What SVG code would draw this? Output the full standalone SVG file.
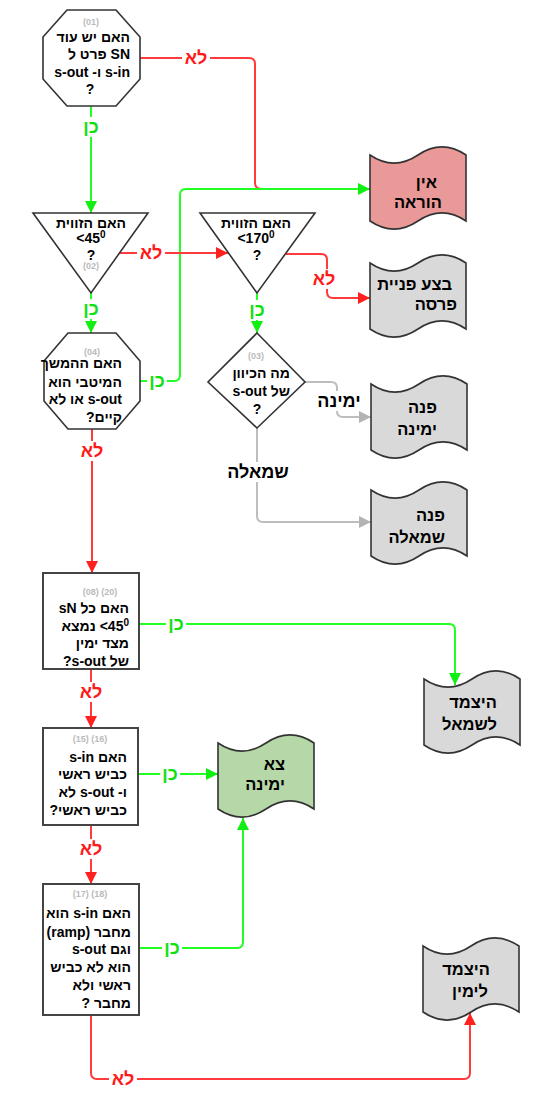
<svg xmlns="http://www.w3.org/2000/svg" width="550" height="1098" viewBox="0 0 550 1098">
<style>
.sh{fill:#fff;stroke:#333;stroke-width:1.6}
.bx{fill:#fff;stroke:#444;stroke-width:2}
.tp{stroke:#333;stroke-width:1.6}
.gray{fill:#d9d9d9}.pink{fill:#ea9999}.grn{fill:#b6d7a8}
text{font-family:"Liberation Sans",Arial,"DejaVu Sans",sans-serif;font-weight:bold}
.t{font-size:14px;fill:#000}
.n{font-size:9px;fill:#bbb}
.tt{font-size:16.5px;fill:#000}
.lr{font-size:18px;fill:#ff1a1a}
.lg{font-size:18px;fill:#11e011}
.lk{font-size:18px;fill:#000}
.cr{fill:none;stroke:#ff3b3b;stroke-width:2}
.cg{fill:none;stroke:#22ff22;stroke-width:2}
.cy{fill:none;stroke:#bdbdbd;stroke-width:2}
.bg{fill:#fff}
</style>
<defs>
<path id="tape" d="M0,9 Q24,25.2 48,9 Q72,-7.2 96,9 L96,75 Q72,58.8 48,75 Q24,91.2 0,75 Z"/>
<marker id="ar" markerUnits="userSpaceOnUse" markerWidth="13" markerHeight="12" refX="12" refY="6" orient="auto"><path d="M0,0 L12,6 L0,12 Z" fill="#ff2020"/></marker>
<marker id="ag" markerUnits="userSpaceOnUse" markerWidth="13" markerHeight="12" refX="12" refY="6" orient="auto"><path d="M0,0 L12,6 L0,12 Z" fill="#11ee11"/></marker>
<marker id="ay" markerUnits="userSpaceOnUse" markerWidth="13" markerHeight="12" refX="12" refY="6" orient="auto"><path d="M0,0 L12,6 L0,12 Z" fill="#b3b3b3"/></marker>
</defs>
<rect width="550" height="1098" fill="#fff"/>

<g id="connectors">
<path class="cr" d="M140,58 H249 Q255,58 255,64 V183 Q255,189 262,189"/>
<path class="cg" d="M140,381 H174 Q180,381 180,375 V195 Q180,189 186,189 H370" marker-end="url(#ag)"/>
<path class="cg" d="M91,106 V213" marker-end="url(#ag)"/>
<path class="cr" d="M119,253 H228" marker-end="url(#ar)"/>
<path class="cg" d="M91,293 V333" marker-end="url(#ag)"/>
<path class="cr" d="M286,254 H321 Q327,254 327,260 V292 Q327,298 333,298 H370" marker-end="url(#ar)"/>
<path class="cg" d="M257,293 V333" marker-end="url(#ag)"/>
<path class="cy" d="M305,382 H331 Q337,382 337,388 V411 Q337,417 343,417 H371" marker-end="url(#ay)"/>
<path class="cy" d="M257,428 V516 Q257,522 263,522 H371" marker-end="url(#ay)"/>
<path class="cr" d="M92,429 V573" marker-end="url(#ar)"/>
<path class="cg" d="M139,624 H449 Q455,624 455,630 V685" marker-end="url(#ag)"/>
<path class="cr" d="M91,669 V728" marker-end="url(#ar)"/>
<path class="cg" d="M138,774 H218" marker-end="url(#ag)"/>
<path class="cr" d="M91,825 V884" marker-end="url(#ar)"/>
<path class="cg" d="M139,948 H237 Q243,948 243,942 V818" marker-end="url(#ag)"/>
<path class="cr" d="M91,1015 V1073 Q91,1079 97,1079 H464 Q470,1079 470,1073 V1013" marker-end="url(#ar)"/>
<g id="labels" dominant-baseline="central" text-anchor="middle">
<rect class="bg" x="182" y="48" width="28" height="20"/><text class="lr" x="196" y="58">לא</text>
<rect class="bg" x="147" y="371" width="20" height="20"/><text class="lg" x="157" y="381">כן</text>
<rect class="bg" x="81" y="117" width="20" height="20"/><text class="lg" x="91" y="127">כן</text>
<rect class="bg" x="137" y="243" width="28" height="20"/><text class="lr" x="151" y="253">לא</text>
<rect class="bg" x="81" y="299" width="20" height="20"/><text class="lg" x="91" y="309">כן</text>
<rect class="bg" x="310" y="269" width="28" height="20"/><text class="lr" x="324" y="279">לא</text>
<rect class="bg" x="247" y="300" width="20" height="20"/><text class="lg" x="257" y="310">כן</text>
<rect class="bg" x="318" y="391" width="42" height="20"/><text class="lk" x="339" y="401">ימינה</text>
<rect class="bg" x="228" y="462" width="60" height="20"/><text class="lk" x="258" y="472">שמאלה</text>
<rect class="bg" x="78" y="441" width="28" height="20"/><text class="lr" x="92" y="451">לא</text>
<rect class="bg" x="166" y="614" width="20" height="20"/><text class="lg" x="176" y="624">כן</text>
<rect class="bg" x="77" y="682" width="28" height="20"/><text class="lr" x="91" y="692">לא</text>
<rect class="bg" x="160" y="764" width="20" height="20"/><text class="lg" x="170" y="774">כן</text>
<rect class="bg" x="77" y="839" width="28" height="20"/><text class="lr" x="91" y="849">לא</text>
<rect class="bg" x="162" y="938" width="20" height="20"/><text class="lg" x="172" y="948">כן</text>
<rect class="bg" x="109" y="1069" width="28" height="20"/><text class="lr" x="123" y="1079">לא</text>
</g>
</g>

<g id="n01">
<polygon class="sh" points="67,10 116,10 140,37 140,79 116,106 67,106 43,79 43,37"/>
<text class="n" x="91" y="25" text-anchor="middle">(01)</text>
<text class="t" x="130" y="42" direction="rtl" text-anchor="start">האם יש עוד</text>
<text class="t" x="130" y="59" direction="rtl" text-anchor="start">SN פרט ל</text>
<text class="t" x="130" y="77" direction="rtl" text-anchor="start">s-in ו- s-out</text>
<text class="t" x="90" y="94" text-anchor="middle">?</text>
</g>

<g id="n02">
<polygon class="sh" points="33,213 148,213 91,293"/>
<text class="t" x="91" y="228" text-anchor="middle">האם הזווית</text>
<text class="t" x="91" y="243" text-anchor="middle">&lt;45<tspan font-size="10" dy="-5">0</tspan></text>
<text class="t" x="91" y="260" text-anchor="middle">?</text>
<text class="n" x="91" y="269" text-anchor="middle">(02)</text>
</g>

<g id="n170">
<polygon class="sh" points="200,213 315,213 257,293"/>
<text class="t" x="256" y="228" text-anchor="middle">האם הזווית</text>
<text class="t" x="256" y="243" text-anchor="middle">&lt;170<tspan font-size="10" dy="-5">0</tspan></text>
<text class="t" x="257" y="260" text-anchor="middle">?</text>
</g>

<g id="n03">
<polygon class="sh" points="257,333 305,382 257,428 208,382"/>
<text class="n" x="256" y="359" text-anchor="middle">(03)</text>
<text class="t" x="290" y="378" direction="rtl" text-anchor="start">מה הכיוון</text>
<text class="t" x="290" y="396" direction="rtl" text-anchor="start">של s-out</text>
<text class="t" x="257" y="414" text-anchor="middle">?</text>
</g>

<g id="n04">
<polygon class="sh" points="68,333 116,333 140,361 140,401 116,429 68,429 44,401 44,361"/>
<text class="n" x="92" y="355" text-anchor="middle">(04)</text>
<text class="t" x="122" y="368" direction="rtl" text-anchor="start">האם ההמשך</text>
<text class="t" x="122" y="387" direction="rtl" text-anchor="start">המיטבי הוא</text>
<text class="t" x="122" y="404" direction="rtl" text-anchor="start">s-out או לא</text>
<text class="t" x="122" y="422" direction="rtl" text-anchor="start">קיים?</text>
</g>

<g id="n0820">
<rect class="bx" x="43" y="573" width="96" height="96"/>
<text class="n" x="100" y="595" text-anchor="middle">(08) (20)</text>
<text class="t" x="129" y="613" direction="rtl" text-anchor="start">האם כל sN</text>
<text class="t" x="129" y="631" direction="rtl" text-anchor="start">&#x200E;&lt;45<tspan font-size="10" dy="-5">0</tspan><tspan dy="5"> נמצא</tspan></text>
<text class="t" x="129" y="648" direction="rtl" text-anchor="start">מצד ימין</text>
<text class="t" x="129" y="666" direction="rtl" text-anchor="start">של s-out?</text>
</g>

<g id="n1516">
<rect class="bx" x="43" y="728" width="95" height="97"/>
<text class="n" x="90" y="742" text-anchor="middle">(15) (16)</text>
<text class="t" x="127" y="762" direction="rtl" text-anchor="start">האם s-in</text>
<text class="t" x="127" y="779" direction="rtl" text-anchor="start">כביש ראשי</text>
<text class="t" x="127" y="797" direction="rtl" text-anchor="start">ו- s-out לא</text>
<text class="t" x="127" y="815" direction="rtl" text-anchor="start">כביש ראשי?</text>
</g>

<g id="n1718">
<rect class="bx" x="43" y="884" width="96" height="131"/>
<text class="n" x="90" y="897" text-anchor="middle">(17) (18)</text>
<text class="t" x="131" y="918" direction="rtl" text-anchor="start">האם s-in הוא</text>
<text class="t" x="131" y="937" direction="rtl" text-anchor="start">מחבר (ramp)</text>
<text class="t" x="131" y="954" direction="rtl" text-anchor="start">וגם s-out</text>
<text class="t" x="131" y="972" direction="rtl" text-anchor="start">הוא לא כביש</text>
<text class="t" x="131" y="990" direction="rtl" text-anchor="start">ראשי ולא</text>
<text class="t" x="131" y="1008" direction="rtl" text-anchor="start">מחבר ?</text>
</g>

<g id="noInstr">
<use href="#tape" x="370" y="146" class="tp pink"/>
<text class="tt" x="437" y="188" text-anchor="end" font-size="17.5">אין</text>
<text class="tt" x="442" y="208" text-anchor="end" font-size="17.5">הוראה</text>
</g>

<g id="uturn">
<use href="#tape" x="370" y="254" class="tp gray"/>
<text class="tt" x="452" y="290" text-anchor="end">בצע פניית</text>
<text class="tt" x="457" y="310" text-anchor="end">פרסה</text>
</g>

<g id="turnRight">
<use href="#tape" x="371" y="375" class="tp gray"/>
<text class="tt" x="437" y="413" text-anchor="end">פנה</text>
<text class="tt" x="437" y="435" text-anchor="end">ימינה</text>
</g>

<g id="turnLeft">
<use href="#tape" x="371" y="481" class="tp gray"/>
<text class="tt" x="445" y="521" text-anchor="end">פנה</text>
<text class="tt" x="445" y="543" text-anchor="end">שמאלה</text>
</g>

<g id="keepLeft">
<use href="#tape" x="424" y="670" class="tp gray"/>
<text class="tt" x="497" y="708" text-anchor="end">היצמד</text>
<text class="tt" x="497" y="730" text-anchor="end">לשמאל</text>
</g>

<g id="exitRight">
<use href="#tape" x="218" y="734" class="tp grn"/>
<text class="tt" x="285" y="770" text-anchor="end">צא</text>
<text class="tt" x="285" y="790" text-anchor="end">ימינה</text>
</g>

<g id="keepRight">
<use href="#tape" x="423" y="937" class="tp gray"/>
<text class="tt" x="490" y="975" text-anchor="end">היצמד</text>
<text class="tt" x="488" y="997" text-anchor="end">לימין</text>
</g>
</svg>
